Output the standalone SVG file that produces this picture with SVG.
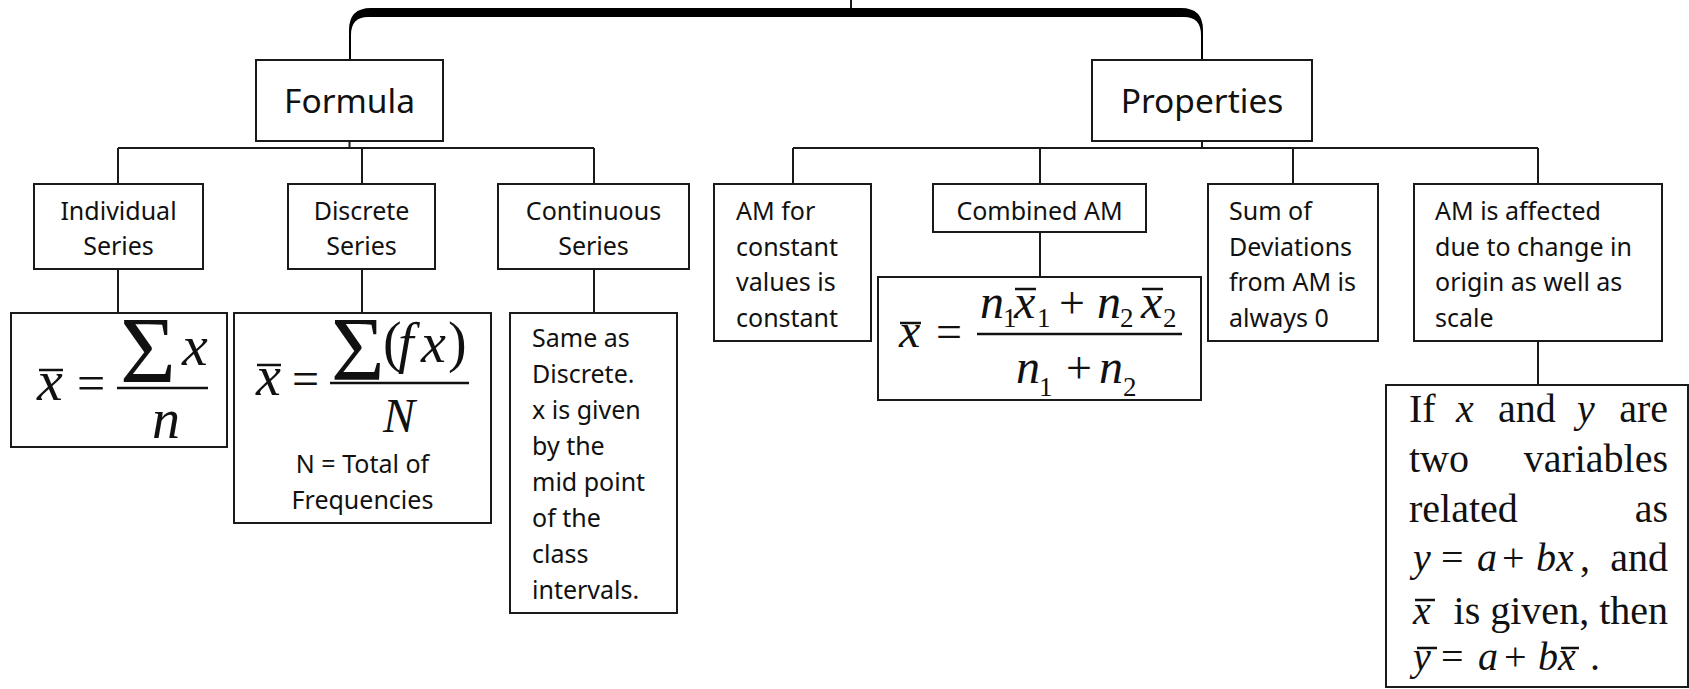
<svg xmlns="http://www.w3.org/2000/svg" width="1689" height="689" viewBox="0 0 1689 689">
  <style>
    .box { fill: #fff; stroke: #1a1a1a; stroke-width: 2; }
    .wire { fill: none; stroke: #1a1a1a; stroke-width: 2; }
    .sans { font-family: "Noto Sans", "Open Sans", sans-serif; font-size: 25px; fill: #111; }
    .head { font-family: "Noto Sans", "Open Sans", sans-serif; font-size: 33.5px; fill: #111; text-anchor: middle; }
    .mid { text-anchor: middle; }
    .serif { font-family: "Liberation Serif", "Times New Roman", serif; fill: #111; }
    .it { font-style: italic; }
    .bar { stroke: #111; stroke-width: 2.5; }
    .frac { stroke: #111; stroke-width: 2.5; }
  </style>

  <!-- connectors -->
  <g id="connectors">
    <line class="wire" x1="851" y1="0" x2="851" y2="10"/>
    <!-- heavy bracket over the two main branches -->
    <path d="M 349,61 L 349,30 Q 349,8 371,8 L 1181,8 Q 1203,8 1203,30 L 1203,61 L 1201,61 L 1201,35 Q 1201,17 1184,17 L 368,17 Q 351,17 351,35 L 351,61 Z" fill="#000"/>
    <!-- Formula branch -->
    <line class="wire" x1="349.5" y1="141" x2="349.5" y2="148"/>
    <line class="wire" x1="118" y1="148" x2="594" y2="148"/>
    <line class="wire" x1="118" y1="148" x2="118" y2="184"/>
    <line class="wire" x1="362" y1="148" x2="362" y2="184"/>
    <line class="wire" x1="594" y1="148" x2="594" y2="184"/>
    <line class="wire" x1="118" y1="269" x2="118" y2="313"/>
    <line class="wire" x1="362" y1="269" x2="362" y2="313"/>
    <line class="wire" x1="594" y1="269" x2="594" y2="313"/>
    <!-- Properties branch -->
    <line class="wire" x1="1202" y1="141" x2="1202" y2="148"/>
    <line class="wire" x1="793" y1="148" x2="1538" y2="148"/>
    <line class="wire" x1="793" y1="148" x2="793" y2="184"/>
    <line class="wire" x1="1040" y1="148" x2="1040" y2="184"/>
    <line class="wire" x1="1293" y1="148" x2="1293" y2="184"/>
    <line class="wire" x1="1538" y1="148" x2="1538" y2="184"/>
    <line class="wire" x1="1040" y1="232" x2="1040" y2="277"/>
    <line class="wire" x1="1538" y1="341" x2="1538" y2="385"/>
  </g>

  <g id="formula">
    <rect class="box" x="256" y="60" width="187" height="81"/>
    <text class="head" x="349.5" y="113">Formula</text>
  </g>

  <g id="properties">
    <rect class="box" x="1092" y="60" width="220" height="81"/>
    <text class="head" x="1202" y="113">Properties</text>
  </g>

  <g id="individual-series">
    <rect class="box" x="34" y="184" width="169" height="85"/>
    <text class="sans mid" x="118.5" y="220">Individual</text>
    <text class="sans mid" x="118.5" y="255">Series</text>
  </g>

  <g id="discrete-series">
    <rect class="box" x="288" y="184" width="147" height="85"/>
    <text class="sans mid" x="361.5" y="220">Discrete</text>
    <text class="sans mid" x="361.5" y="255">Series</text>
  </g>

  <g id="continuous-series">
    <rect class="box" x="498" y="184" width="191" height="85"/>
    <text class="sans mid" x="593.5" y="220">Continuous</text>
    <text class="sans mid" x="593.5" y="255">Series</text>
  </g>

  <!-- x-bar = sum x / n -->
  <g id="individual-formula">
    <rect class="box" x="11" y="313" width="216" height="134"/>
    <text class="serif" font-size="58"><tspan class="it" x="37" y="400">x</tspan><tspan x="77" y="400" font-size="50">=</tspan><tspan x="120" y="383" font-size="96">Σ</tspan><tspan class="it" x="182" y="365">x</tspan><tspan class="it" x="152" y="438" font-size="56">n</tspan></text>
    <line class="bar" x1="39" y1="370" x2="63" y2="370"/>
    <line class="frac" x1="117" y1="388" x2="208" y2="388"/>
  </g>

  <!-- x-bar = sum (fx) / N -->
  <g id="discrete-formula">
    <rect class="box" x="234" y="313" width="257" height="210"/>
    <text class="serif" font-size="56"><tspan class="it" x="256" y="395">x</tspan><tspan x="292" y="395" font-size="48">=</tspan><tspan x="331" y="380" font-size="92">Σ</tspan><tspan x="383" y="361">(</tspan><tspan class="it" x="398" y="362">f</tspan><tspan class="it" x="421" y="362">x</tspan><tspan x="448" y="361">)</tspan><tspan class="it" x="383" y="432" font-size="48">N</tspan></text>
    <line class="bar" x1="257" y1="365" x2="281" y2="365"/>
    <line class="frac" x1="330" y1="383" x2="469" y2="383"/>
    <text class="sans mid" x="362.5" y="473">N = Total of</text>
    <text class="sans mid" x="362.5" y="509">Frequencies</text>
  </g>

  <g id="continuous-note">
    <rect class="box" x="510" y="313" width="167" height="300"/>
    <text class="sans" x="532" y="347">Same as</text>
    <text class="sans" x="532" y="383">Discrete.</text>
    <text class="sans" x="532" y="419">x is given</text>
    <text class="sans" x="532" y="455">by the</text>
    <text class="sans" x="532" y="491">mid point</text>
    <text class="sans" x="532" y="527">of the</text>
    <text class="sans" x="532" y="563">class</text>
    <text class="sans" x="532" y="599">intervals.</text>
  </g>

  <g id="am-constant">
    <rect class="box" x="714" y="184" width="157" height="157"/>
    <text class="sans" x="736" y="220">AM for</text>
    <text class="sans" x="736" y="255.7">constant</text>
    <text class="sans" x="736" y="291.3">values is</text>
    <text class="sans" x="736" y="327">constant</text>
  </g>

  <g id="combined-am">
    <rect class="box" x="933" y="184" width="213" height="48"/>
    <text class="sans mid" x="1039.5" y="220">Combined AM</text>
  </g>

  <!-- x-bar = (n1 x1 + n2 x2) / (n1 + n2) -->
  <g id="combined-formula">
    <rect class="box" x="878" y="277" width="323" height="123"/>
    <text class="serif" font-size="48"><tspan class="it" x="899" y="347">x</tspan><tspan x="936" y="347" font-size="46">=</tspan></text>
    <line class="bar" x1="900" y1="323" x2="921" y2="323"/>
    <text class="serif" font-size="48"><tspan class="it" x="980" y="318">n</tspan><tspan x="1003" y="327" font-size="27">1</tspan><tspan class="it" x="1014" y="318">x</tspan><tspan x="1037" y="327" font-size="27">1</tspan><tspan x="1059" y="318" font-size="46">+</tspan><tspan class="it" x="1097" y="318">n</tspan><tspan x="1120" y="327" font-size="27">2</tspan><tspan class="it" x="1141" y="318">x</tspan><tspan x="1163" y="327" font-size="27">2</tspan><tspan class="it" x="1016" y="383">n</tspan><tspan x="1039" y="396" font-size="27">1</tspan><tspan x="1066" y="383" font-size="46">+</tspan><tspan class="it" x="1099" y="383">n</tspan><tspan x="1123" y="396" font-size="27">2</tspan></text>
    <line class="bar" x1="1015" y1="289" x2="1036" y2="289"/>
    <line class="bar" x1="1142" y1="289" x2="1163" y2="289"/>
    <line class="frac" x1="977" y1="334" x2="1182" y2="334"/>
  </g>

  <g id="sum-deviations">
    <rect class="box" x="1208" y="184" width="170" height="157"/>
    <text class="sans" x="1229" y="220">Sum of</text>
    <text class="sans" x="1229" y="255.7">Deviations</text>
    <text class="sans" x="1229" y="291.3">from AM is</text>
    <text class="sans" x="1229" y="327">always 0</text>
  </g>

  <g id="am-affected">
    <rect class="box" x="1414" y="184" width="248" height="157"/>
    <text class="sans" x="1435" y="220">AM is affected</text>
    <text class="sans" x="1435" y="255.7">due to change in</text>
    <text class="sans" x="1435" y="291.3">origin as well as</text>
    <text class="sans" x="1435" y="327">scale</text>
  </g>

  <g id="origin-scale-note" class="serif" font-size="40">
    <rect class="box" x="1386" y="385" width="302" height="302"/>
    <text x="1409" y="422">If</text>
    <text class="it" x="1456" y="422">x</text>
    <text x="1498" y="422">and</text>
    <text class="it" x="1577" y="422">y</text>
    <text x="1668" y="422" text-anchor="end">are</text>

    <text x="1409" y="472">two</text>
    <text x="1668" y="472" text-anchor="end">variables</text>

    <text x="1409" y="522">related</text>
    <text x="1668" y="522" text-anchor="end">as</text>

    <text><tspan class="it" x="1413" y="571">y</tspan><tspan x="1441" y="571">=</tspan><tspan class="it" x="1477" y="571">a</tspan><tspan x="1502" y="571">+</tspan><tspan class="it" x="1536" y="571">b</tspan><tspan class="it" x="1556" y="571">x</tspan><tspan x="1580" y="571">,</tspan></text>
    <text x="1668" y="571" text-anchor="end">and</text>

    <text class="it" x="1413" y="624">x</text>
    <line class="bar" x1="1415" y1="600" x2="1435" y2="600"/>
    <text x="1668" y="624" text-anchor="end">is given, then</text>

    <text><tspan class="it" x="1413" y="670">y</tspan><tspan x="1441" y="670">=</tspan><tspan class="it" x="1478" y="670">a</tspan><tspan x="1504" y="670">+</tspan><tspan class="it" x="1538" y="670">b</tspan><tspan class="it" x="1558" y="670">x</tspan><tspan x="1590" y="670">.</tspan></text>
    <line class="bar" x1="1417" y1="648" x2="1437" y2="648"/>
    <line class="bar" x1="1561" y1="648" x2="1579" y2="648"/>
  </g>
</svg>
